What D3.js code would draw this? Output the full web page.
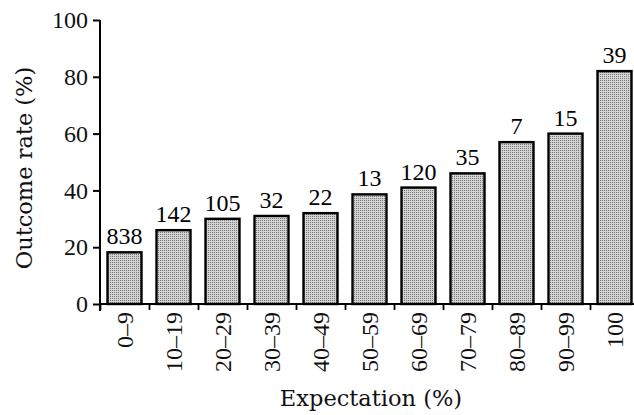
<!DOCTYPE html>
<html>
<head>
<meta charset="utf-8">
<script src="https://cdn.jsdelivr.net/npm/d3@7"></script>
<style>
  body { margin: 0; background: #fff; }
</style>
</head>
<body>
<svg id="chart"></svg>
<script>
// categories (expectation bins), outcome rate per bin, and n above each bar
const categories = ["0–9", "10–19", "20–29", "30–39", "40–49", "50–59",
  "60–69", "70–79", "80–89", "90–99", "100"];
const rates = [18.2, 26, 30, 31, 32, 38.6, 41, 46, 57, 60, 82];
const counts = [838, 142, 105, 32, 22, 13, 120, 35, 7, 15, 39];
const yTicks = [0, 20, 40, 60, 80, 100];

const data = categories.map((c, i) => ({cat: c, rate: rates[i], n: counts[i]}));

// narrow serif for the numbers, wider one for the titles
const NUMFONT = "'Liberation Serif', serif";
const TITLEFONT = "'DejaVu Serif', serif";
const W = 634, H = 415;
const svg = d3.select("#chart")
    .attr("width", W)
    .attr("height", H);

// stipple fill for bars
const pat = svg.append("defs").append("pattern")
    .attr("id", "dots")
    .attr("width", 2).attr("height", 2)
    .attr("patternUnits", "userSpaceOnUse");
pat.append("rect").attr("width", 2).attr("height", 2).attr("fill", "#d2d2d2");
pat.append("rect").attr("width", 1).attr("height", 1).attr("fill", "#7a7a7a");

const x = d3.scaleBand()
  .domain(categories)
  .range([100, 639])
  .paddingInner(0.306)
  .paddingOuter(0.153);

// boundaries between bins, for the small ticks under the axis
const xb = d3.scaleLinear().domain([0, categories.length]).range([100, 639]);

const y = d3.scaleLinear()
  .domain([0, 100])
  .range([304, 20]);

// bars
svg.selectAll("rect.bar")
  .data(data)
  .join("rect")
    .attr("class", "bar")
    .attr("x", d => x(d.cat))
    .attr("y", d => y(d.rate))
    .attr("width", x.bandwidth())
    .attr("height", d => y(0) - y(d.rate))
    .attr("fill", "url(#dots)")
    .attr("stroke", "#000")
    .attr("stroke-width", 2.4);

// counts above bars
svg.selectAll("text.count")
  .data(data)
  .join("text")
    .attr("class", "count")
    .attr("x", d => x(d.cat) + x.bandwidth() / 2)
    .attr("y", d => y(d.rate) - 8)
    .attr("text-anchor", "middle")
    .style("font-family", NUMFONT)
    .style("font-size", "24px")
    .text(d => d.n);

// Y axis
const yAxis = svg.append("g")
  .attr("transform", "translate(100,0)")
  .call(d3.axisLeft(y).tickValues(yTicks).tickSize(7).tickSizeOuter(0).tickPadding(5));
yAxis.select(".domain").attr("stroke-width", 2).attr("d", `M0,${y(100)}V${y(0) + 7}`);
yAxis.selectAll(".tick line").attr("stroke-width", 2);
yAxis.selectAll(".tick text")
  .style("font-family", NUMFONT)
  .style("font-size", "24px")
  .attr("fill", "#111");

// X axis: line + boundary ticks
const xAxis = svg.append("g")
  .attr("transform", `translate(0,${y(0)})`)
  .call(d3.axisBottom(xb).ticks(categories.length).tickSize(6).tickSizeOuter(0).tickFormat(""));
xAxis.select(".domain").attr("stroke-width", 2).attr("d", "M100,0H634");
xAxis.selectAll(".tick line").attr("stroke-width", 1.8);

// X tick labels, rotated
svg.append("g")
  .selectAll("text")
  .data(categories)
  .join("text")
    .attr("transform", d => `translate(${x(d) + x.bandwidth() / 2},312) rotate(-90)`)
    .attr("text-anchor", "end")
    .attr("dy", "0.34em")
    .style("font-family", NUMFONT)
    .style("font-size", "24px")
    .attr("fill", "#111")
    .text(d => d);

// axis titles
svg.append("text")
  .attr("x", 371)
  .attr("y", 406)
  .attr("text-anchor", "middle")
  .style("font-family", TITLEFONT)
  .style("font-size", "22.5px")
  .attr("fill", "#111")
  .text("Expectation (%)");

svg.append("text")
  .attr("transform", "translate(32,168) rotate(-90)")
  .attr("text-anchor", "middle")
  .style("font-family", TITLEFONT)
  .style("font-size", "22.5px")
  .attr("fill", "#111")
  .text("Outcome rate (%)");
</script>
</body>
</html>
